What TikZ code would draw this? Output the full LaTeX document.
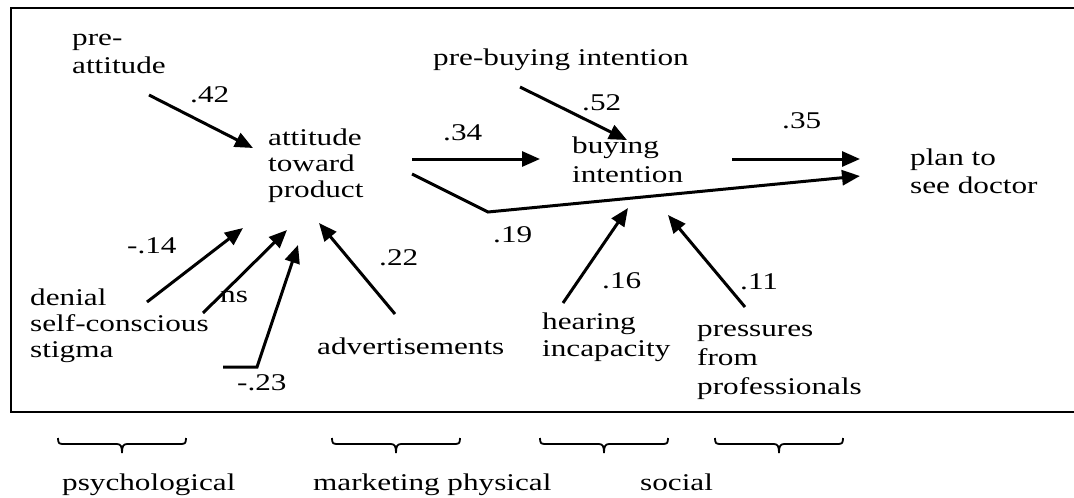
\documentclass[tikz,border=0pt]{standalone}
\usepackage{fontspec}
\newfontfamily\diagfont{Liberation Serif}[FakeStretch=1.3]
\usetikzlibrary{arrows.meta}
\begin{document}
\begin{tikzpicture}[x=1pt,y=-1pt,
  % multi-line labels are placed by the baseline of their last line
  lbl/.style={anchor=base west, inner sep=0pt, align=left,
    font=\diagfont\fontsize{24}{#1}\selectfont},
  lbl/.default=27.5,
  link/.style={line width=3pt, -{Triangle[length=18pt,width=15pt]}},
  frameline/.style={line width=2pt},
  brace/.style={line width=1.8pt},
  flatbrace/.pic={\draw[brace] (-64,-6) .. controls (-64,-1) and (-63,0) .. (-59,0)
      -- (-5,0) .. controls (-1,0) and (0,3) .. (0,9)
      .. controls (0,3) and (1,0) .. (5,0) -- (59,0)
      .. controls (63,0) and (64,-1) .. (64,-6);}]
\useasboundingbox (0,0) rectangle (1074,498);

% outer frame (open on the right)
\draw[frameline] (1074,8) -- (11,8) -- (11,412) -- (1074,412);

% variables
\node[lbl=28] (preatt) at (72,73) {pre-\\attitude};
\node[lbl=26] (att) at (268,197) {attitude\\toward\\product};
\node[lbl] (prebuy) at (433,65) {pre-buying intention};
\node[lbl=29] (buy) at (572,182) {buying\\intention};
\node[lbl=28] (plan) at (910,193) {plan to\\see doctor};
\node[lbl=26] (psy) at (30,357) {denial\\self-conscious\\stigma};
\node[lbl] (ns) at (220,302) {ns};
\node[lbl] (adv) at (317,354) {advertisements};
\node[lbl=27] (hear) at (542,356) {hearing\\incapacity};
\node[lbl=29] (press) at (697,394) {pressures\\from\\professionals};

% path coefficients
\node[lbl] (c42) at (190,102) {.42};
\node[lbl] (c52) at (582,110) {.52};
\node[lbl] (c34) at (443,140) {.34};
\node[lbl] (c35) at (782,128) {.35};
\node[lbl] (c19) at (493,242) {.19};
\node[lbl] (c14) at (127,253) {-.14};
\node[lbl] (c22) at (379,265) {.22};
\node[lbl] (c23) at (237,390) {-.23};
\node[lbl] (c16) at (602,288) {.16};
\node[lbl] (c11) at (740,289) {.11};

% arrow end points
\coordinate (preattS) at (149,95);  \coordinate (preattE) at (253,148);
\coordinate (prebuyS) at (520,87);  \coordinate (prebuyE) at (627,140);
\coordinate (attS) at (412,159);    \coordinate (buyW) at (540,159);
\coordinate (buyS) at (732,159);    \coordinate (planW) at (860,159);
\coordinate (attS2) at (412,174);   \coordinate (bend) at (488,212);
\coordinate (planW2) at (860,176);
\coordinate (denS) at (147,302);    \coordinate (denE) at (243,228);
\coordinate (selfS) at (203,313);   \coordinate (selfE) at (287,230);
\coordinate (stigS) at (223,367);   \coordinate (stigK) at (257,367);
\coordinate (stigE) at (298,245);
\coordinate (advS) at (395,314);    \coordinate (advE) at (319,223);
\coordinate (hearS) at (563,303);   \coordinate (hearE) at (628,208);
\coordinate (pressS) at (745,307);  \coordinate (pressE) at (668,215);

% connectors
\draw[link] (preattS) -- (preattE);
\draw[link] (prebuyS) -- (prebuyE);
\draw[link] (attS) -- (buyW);
\draw[link] (buyS) -- (planW);
\draw[link] (attS2) -- (bend) -- (planW2);
\draw[link] (denS) -- (denE);
\draw[link] (selfS) -- (selfE);
\draw[link] (stigS) -- (stigK) -- (stigE);
\draw[link] (advS) -- (advE);
\draw[link] (hearS) -- (hearE);
\draw[link] (pressS) -- (pressE);

% factor groups
\pic at (122,444) {flatbrace};
\pic at (396,444) {flatbrace};
\pic at (604,444) {flatbrace};
\pic at (779,444) {flatbrace};
\node[lbl] (gpsy) at (62,490) {psychological};
\node[lbl] (gmkt) at (313,490) {marketing physical};
\node[lbl] (gsoc) at (640,490) {social};
\end{tikzpicture}
\end{document}
